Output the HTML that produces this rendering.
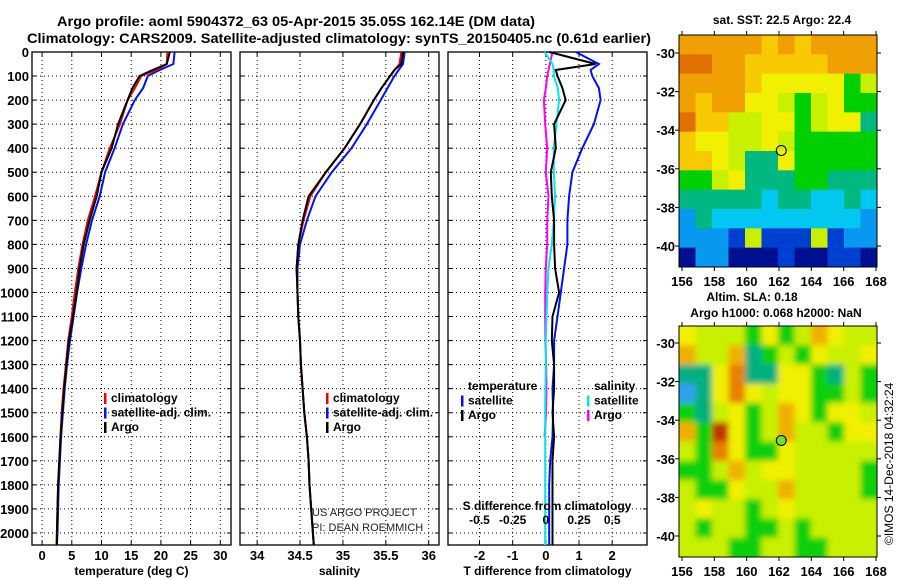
<!DOCTYPE html>
<html><head><meta charset="utf-8"><style>
body{margin:0;background:#fff}
svg{display:block;font-family:"Liberation Sans",sans-serif}
.b{font-weight:bold}
</style></head><body>
<svg id="c" width="900" height="580" viewBox="0 0 900 580" xmlns="http://www.w3.org/2000/svg">
<text x="57" y="26" font-size="14" class="b" textLength="478" lengthAdjust="spacingAndGlyphs">Argo profile: aoml 5904372_63 05-Apr-2015 35.05S 162.14E (DM data)</text>
<text x="27" y="43" font-size="14" class="b" textLength="624" lengthAdjust="spacingAndGlyphs">Climatology: CARS2009. Satellite-adjusted climatology: synTS_20150405.nc (0.61d earlier)</text>
<g id="g"></g>
<text x="782" y="24" text-anchor="middle" font-size="12" class="b">sat. SST: 22.5 Argo: 22.4</text>
<text x="752" y="301" text-anchor="middle" font-size="12" class="b">Altim. SLA: 0.18</text>
<text x="776" y="317" text-anchor="middle" font-size="12" class="b">Argo h1000: 0.068 h2000: NaN</text>
<text transform="translate(893,545) rotate(-90)" font-size="12">©IMOS 14-Dec-2018 04:32:24</text>
</svg>
<script>
// ---- profile data ----
const depths=[0,50,75,100,150,200,300,400,500,600,700,800,900,1000,1100,1200,1300,1400,1500,1600,1700,1800,1900,2000,2050];
const tempClim=[21.1,21.0,19.2,16.7,15.6,14.4,13.1,11.4,10.0,8.9,7.7,6.8,6.1,5.5,5.0,4.4,4.0,3.6,3.3,3.1,2.9,2.7,2.6,2.5,2.4];
const tempSat=[22.3,22.1,19.8,17.8,17.0,15.6,13.6,12.2,10.6,9.7,8.4,7.4,6.6,5.9,5.3,4.7,4.2,3.8,3.5,3.2,3.0,2.8,2.7,2.6,2.5];
const tempArgo=[21.5,21.0,18.6,16.4,15.2,14.4,12.8,11.7,10.0,9.2,8.0,7.0,6.3,5.8,5.2,4.5,4.1,3.7,3.4,3.1,2.9,2.7,2.6,2.5,2.5];
const salClim=[35.68,35.66,35.6,35.55,35.45,35.36,35.2,35.02,34.8,34.62,34.54,34.48,34.46,34.47,34.48,34.5,34.51,34.53,34.55,34.58,34.6,34.61,34.63,34.65,34.66];
const salSat=[35.72,35.7,35.65,35.6,35.52,35.44,35.28,35.1,34.87,34.68,34.58,34.5,34.47,34.47,34.48,34.5,34.51,34.53,34.55,34.58,34.6,34.61,34.63,34.65,34.66];
const salArgo=[35.7,35.68,35.6,35.55,35.45,35.36,35.2,35.02,34.8,34.6,34.53,34.48,34.46,34.47,34.48,34.5,34.51,34.53,34.55,34.58,34.6,34.61,34.63,34.65,34.66];
const dTSat=[0.9,1.6,1.35,1.4,1.6,1.65,1.45,1.1,0.8,0.7,0.65,0.65,0.55,0.45,0.35,0.25,0.25,0.2,0.22,0.2,0.13,0.1,0.1,0.1,0.1];
const dTArgo=[0.1,1.5,0.3,0.35,0.5,0.6,0.25,0.3,0.15,0.18,0.25,0.25,0.28,0.4,0.2,0.18,0.25,0.25,0.2,0.25,0.2,0.2,0.2,0.2,0.2];
const dSSat=[-0.01,0.05,0.06,0.06,0.09,0.1,0.08,0.06,0.06,0.07,0.06,0.045,0.02,0.01,0.005,0,0,-0.003,-0.005,-0.005,-0.005,-0.005,-0.005,-0.005,-0.005];
const dSArgo=[0.05,0.03,0.02,0.01,0,-0.015,-0.005,0.01,0,0.02,0.01,0.01,0,-0.005,-0.005,-0.003,0.002,0.005,0.002,-0.01];
// ---- map data ----
const sstGrid=["111112121111","001122222111","111123333354","121133454355","022443354336","233443455555","223466355555","554366655666","666667667767","867777777778","888949994988","a88aaa9aa99a"];
const slaGrid=["344453542344","244265453443","663166335645","763134335545","564354235334","250354244533","451355344444","554243344445","455344244445","434454344444","454455454444","444554455444"];
const sstColors={"0":"#e07000","1":"#f0a000","2":"#f8c800","3":"#f0f000","4":"#c8f000","5":"#00d000","6":"#00b880","7":"#00c8f0","8":"#0898f0","9":"#0040d0","a":"#001090"};
const slaColors={"0":"#c03000","1":"#e88000","2":"#f0b000","3":"#f0f000","4":"#c8f000","5":"#10d010","6":"#00b080","7":"#30a0f0"};

const NS="http://www.w3.org/2000/svg";
const G=document.getElementById('g');
function mk(t,a,p){const e=document.createElementNS(NS,t);for(const k in a)e.setAttribute(k,a[k]);(p||G).appendChild(e);return e;}
const top0=52,bot=545,dScale=(bot-top0)/2050;
const yD=d=>top0+d*dScale;
const panels=[{x0:32,x1:231,lo:-1.7,hi:31.8,ticks:[0,5,10,15,20,25,30],lab:"temperature (deg C)"},
{x0:240,x1:439,lo:33.8,hi:36.12,ticks:[34,34.5,35,35.5,36],lab:"salinity"},
{x0:448,x1:647,lo:-2.95,hi:3.05,ticks:[-2,-1,0,1,2],lab:"T difference from climatology"}];
const depthTicks=[];for(let d=0;d<=2000;d+=100)depthTicks.push(d);
panels.forEach((P,i)=>{
 P.sx=v=>P.x0+(v-P.lo)/(P.hi-P.lo)*(P.x1-P.x0);
 const g=mk('g',{});
 
 
 depthTicks.forEach(d=>{mk('line',{x1:P.x0,x2:P.x1,y1:yD(d),y2:yD(d),stroke:'#000','stroke-dasharray':'1 3','stroke-width':1},g);
  mk('line',{x1:P.x0,x2:P.x0+4,y1:yD(d),y2:yD(d),stroke:'#000'},g);mk('line',{x1:P.x1-4,x2:P.x1,y1:yD(d),y2:yD(d),stroke:'#000'},g);});
 P.ticks.forEach(t=>{const x=P.sx(t);mk('line',{x1:x,x2:x,y1:top0,y2:bot,stroke:'#000','stroke-dasharray':'1 3'},g);
  mk('line',{x1:x,x2:x,y1:bot-4,y2:bot,stroke:'#000'},g);mk('line',{x1:x,x2:x,y1:top0,y2:top0+4,stroke:'#000'},g);
  const tx=mk('text',{x:x,y:bot+15,'text-anchor':'middle','font-size':13,'font-weight':'bold'},g);tx.textContent=String(t);
  
  });
 mk('rect',{x:P.x0,y:top0,width:P.x1-P.x0,height:bot-top0,fill:'none',stroke:'#000','stroke-width':1.3},g);
 const xl=mk('text',{x:(P.x0+P.x1)/2,y:bot+30,'text-anchor':'middle','font-size':12,'font-weight':'bold'},g);xl.textContent=P.lab;
 
 
});
depthTicks.forEach(d=>{const t=mk('text',{x:29,y:yD(d)+5,'text-anchor':'end','font-size':13,'font-weight':'bold'});t.textContent=d;
 
 });
function series(P,vals,col,name,scale){
 const pts=vals.map((v,i)=>P.sx(v*(scale||1)).toFixed(1)+','+yD(depths[i]).toFixed(1)).join(' ');
 const l=mk('polyline',{points:pts,fill:'none',stroke:col,'stroke-width':2});
 
 
}
series(panels[0],tempSat,'#0010ff','temp-satellite-line');series(panels[0],tempClim,'#f00000','temp-climatology-line');series(panels[0],tempArgo,'#000','temp-argo-line');
series(panels[1],salSat,'#0010ff','sal-satellite-line');series(panels[1],salClim,'#f00000','sal-climatology-line');series(panels[1],salArgo,'#000','sal-argo-line');
series(panels[2],dSArgo,'#ff00ff','sdiff-argo-line',4);series(panels[2],dSSat,'#00e8e8','sdiff-satellite-line',4);
series(panels[2],dTSat,'#0010ff','tdiff-satellite-line');series(panels[2],dTArgo,'#000','tdiff-argo-line');
// S diff axis
const P3=panels[2];
const sTicks=[-0.5,-0.25,0,0.25,0.5];
sTicks.forEach(s=>{const t=mk('text',{x:P3.sx(s*4),y:524,'text-anchor':'middle','font-size':12,'font-weight':'bold'});t.textContent=String(s);
 
 });
const st=mk('text',{x:547,y:510,'text-anchor':'middle','font-size':12,'font-weight':'bold'});st.textContent='S difference from climatology';


// legends
function legend(x,y,items){items.forEach((it,i)=>{const yy=y+i*14.5;
 if(it[1]){const r=mk('rect',{x:x,y:yy-9,width:2.5,height:11,fill:it[1]});}
 const t=mk('text',{x:x+7,y:yy,'font-size':12,'font-weight':'bold'});t.textContent=it[0];
 
 });}
legend(104,402,[['climatology','#f00000'],['satellite-adj. clim.','#0010ff'],['Argo','#000']]);
legend(326,402,[['climatology','#f00000'],['satellite-adj. clim.','#0010ff'],['Argo','#000']]);
legend(461,390,[['temperature',null],['satellite','#0010ff'],['Argo','#000']]);
legend(587,390,[['salinity',null],['satellite','#00e8e8'],['Argo','#ff00ff']]);
[['US ARGO PROJECT',516],['PI: DEAN ROEMMICH',531]].forEach(a=>{const t=mk('text',{x:312,y:a[1],'font-size':11,fill:'#222'});t.textContent=a[0];
 
 });
// maps
function map(y0,y1,latTopY,latBotY,grid,colors,name,blur){
 const x0=679,x1=877,lon0=156,lonS=(876-682)/12,lx=v=>682+(v-lon0)*lonS;
 const ly=v=>latTopY+(-30-v)*(latBotY-latTopY)/10;
 const g=mk('g',{});
 
 
 const cid='clip'+name;const cp=mk('clipPath',{id:cid},g);mk('rect',{x:x0,y:y0,width:x1-x0,height:y1-y0},cp);
 const cg=mk('g',{'clip-path':'url(#'+cid+')'},g);
 let inner=cg;
 if(blur){const f=mk('filter',{id:'f'+name,x:'-10%',y:'-10%',width:'120%',height:'120%'},g);mk('feGaussianBlur',{stdDeviation:3},f);inner=mk('g',{filter:'url(#f'+name+')'},cg);}
 const rows=grid.length,cols=grid[0].length,cw=(x1-x0)/cols,ch=(y1-y0)/rows;
 grid.forEach((row,r)=>{[...row].forEach((c,k)=>{const pad=blur?8:0;
  const cx=k==0?x0-pad:x0+k*cw, cy=r==0?y0-pad:y0+r*ch;
  const w=(k==cols-1?x1+pad:x0+(k+1)*cw)-cx+0.5, h=(r==rows-1?y1+pad:y0+(r+1)*ch)-cy+0.5;
  const e=mk('rect',{x:cx,y:cy,width:w,height:h,fill:colors[c]},inner);
  
  });});
 mk('rect',{x:x0,y:y0,width:x1-x0,height:y1-y0,fill:'none',stroke:'#000'},g);
 for(let lon=156;lon<=168;lon+=2){const x=lx(lon);mk('line',{x1:x,x2:x,y1:y1,y2:y1+4,stroke:'#000'},g);mk('line',{x1:x,x2:x,y1:y0-4,y2:y0,stroke:'#000'},g);
  const t=mk('text',{x:x,y:y1+19,'text-anchor':'middle','font-size':13,'font-weight':'bold'},g);t.textContent=lon;
  
  }
 for(let lat=-30;lat>=-40;lat-=2){const y=ly(lat);mk('line',{x1:x0-4,x2:x0,y1:y,y2:y,stroke:'#000'},g);mk('line',{x1:x1,x2:x1+4,y1:y,y2:y,stroke:'#000'},g);
  const t=mk('text',{x:x0-4,y:y+5,'text-anchor':'end','font-size':13,'font-weight':'bold'},g);t.textContent=lat;
  
  }
 const m=mk('circle',{cx:lx(162.14),cy:ly(-35.05),r:5,fill:blur?'#70e020':'none',stroke:'#000','stroke-width':1},g);
 
 
}
map(35,267,53,246,sstGrid,sstColors,'sst-map',false);
map(326,557,343,536,slaGrid,slaColors,'sla-map',true);
</script>
</body></html>
